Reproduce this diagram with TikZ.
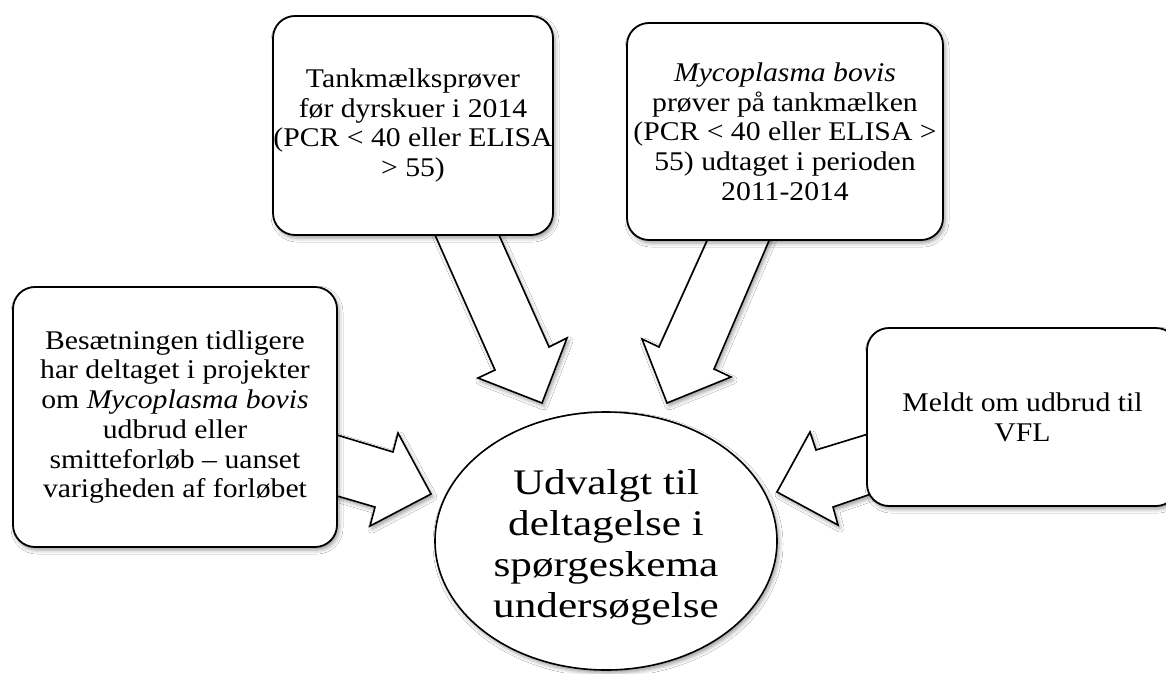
\documentclass[tikz,border=0pt]{standalone}
\usepackage{fontspec}
\setmainfont{Liberation Serif}[FakeStretch=1.1]
\newfontfamily\bigserif{Liberation Serif}[FakeStretch=1.2]
\usetikzlibrary{shapes.geometric,shadows.blur}
\begin{document}
\begin{tikzpicture}[x=1pt,y=-1pt,
  shd/.style={blur shadow={shadow xshift=2pt,shadow yshift=-3pt,shadow blur radius=4pt,shadow opacity=40}},
  card/.style={draw=black,line width=1.8pt,fill=white,rounded corners=22pt,shd,align=center,inner sep=0pt,font=\fontsize{27}{29.7}\selectfont},
  blockarrow/.style={draw=black,line width=1.6pt,fill=white,line join=miter,shd},
  ]
\useasboundingbox (0,0) rectangle (1166,673);
\clip (0,0) rectangle (1166,673);
\fill[white] (0,0) rectangle (1166,673);

% block arrows
\draw[blockarrow] (430.6,225) -- (495,370) -- (478,378) -- (542,403) -- (567,338) -- (549,347) -- (494.5,225) -- cycle;
\draw[blockarrow] (710.5,233) -- (659,347) -- (642,339) -- (667,403) -- (731,377) -- (714,369) -- (772.3,233) -- cycle;
\draw[blockarrow] (327,432) -- (393,452) -- (398,433) -- (431,494) -- (370,526) -- (375,507) -- (327,493) -- cycle;
\draw[blockarrow] (878,431) -- (816,450) -- (810,432) -- (777,492) -- (838,525) -- (833,507) -- (878,491.6) -- cycle;

% boxes
\node[card,minimum width=280pt,minimum height=219pt] (tank) at (413,125.5)
  {Tankmælksprøver\\før dyrskuer i 2014\\(PCR < 40 eller ELISA\\> 55)};
\node[card,minimum width=316pt,minimum height=217pt] (myco) at (785,131.5)
  {\textit{Mycoplasma bovis}\\prøver på tankmælken\\(PCR < 40 eller ELISA >\\55) udtaget i perioden\\2011-2014};
\node[card,minimum width=324pt,minimum height=260pt] (besa) at (175,417)
  {Besætningen tidligere\\har deltaget i projekter\\om \textit{Mycoplasma bovis}\\udbrud eller\\smitteforløb – uanset\\varigheden af forløbet};
\node[card,minimum width=311pt,minimum height=178pt] (meldt) at (1022.5,417)
  {Meldt om udbrud til\\VFL};

% ellipse
\node[draw=black,ellipse,line width=1.6pt,fill=white,shd,minimum width=342pt,minimum height=258pt,inner sep=0pt] (udv) at (606,541) {};
\node[font=\bigserif\fontsize{36}{41}\selectfont,align=center,inner sep=0pt] (udvlabel) at (606,547)
  {Udvalgt til\\deltagelse i\\spørgeskema\\undersøgelse};
\end{tikzpicture}
\end{document}
